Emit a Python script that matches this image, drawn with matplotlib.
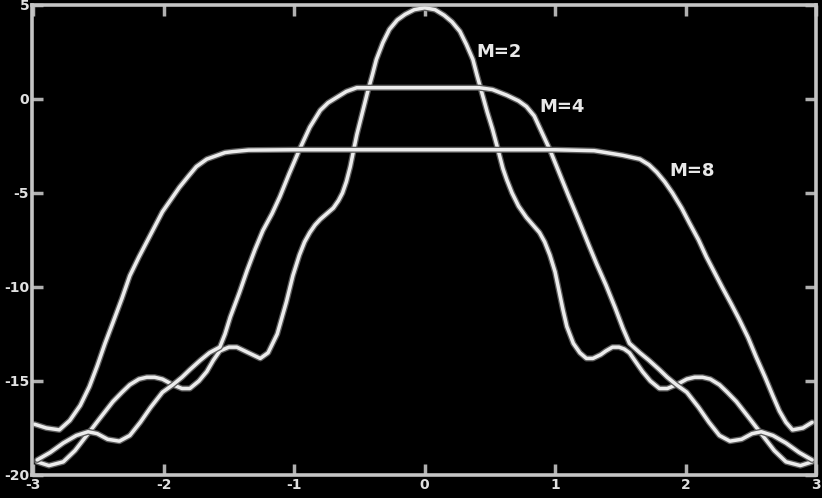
import numpy as np
import matplotlib
matplotlib.use("Agg")
import matplotlib.pyplot as plt
import matplotlib.patheffects as pe

plt.rcParams["axes.unicode_minus"] = False

# values (x, level in dB)
x_m2 = [-2.97, -2.88, -2.77, -2.68, -2.58, -2.48, -2.39, -2.32, -2.26, -2.19, -2.13,
        -2.07, -2.01, -1.93, -1.86, -1.80, -1.73, -1.67, -1.62, -1.57, -1.50, -1.44,
        -1.35, -1.26, -1.20, -1.13, -1.06, -1.01, -0.96, -0.92, -0.88, -0.84, -0.80,
        -0.75, -0.70, -0.66, -0.63, -0.60, -0.57, -0.52, -0.48, -0.44, -0.40, -0.37,
        -0.32, -0.27, -0.21, -0.15, -0.08, 0.0,
        0.08, 0.15, 0.21, 0.27, 0.32, 0.37, 0.40, 0.44, 0.48, 0.52, 0.57, 0.60,
        0.63, 0.67, 0.72, 0.78, 0.83, 0.88, 0.92, 0.96, 1.00, 1.03, 1.06, 1.09,
        1.14, 1.19, 1.24, 1.29, 1.35, 1.39, 1.44, 1.49, 1.53, 1.57, 1.62, 1.67,
        1.73, 1.80, 1.86, 1.93, 2.01, 2.07, 2.13, 2.19, 2.26, 2.32, 2.39, 2.48,
        2.58, 2.68, 2.77, 2.88, 2.97]
db_m2 = [-19.3, -19.5, -19.3, -18.7, -17.8, -16.9, -16.1, -15.6, -15.2, -14.9, -14.8,
         -14.8, -14.9, -15.2, -15.4, -15.4, -15.0, -14.5, -13.9, -13.4, -13.2, -13.2,
         -13.5, -13.8, -13.5, -12.5, -10.8, -9.4, -8.3, -7.6, -7.1, -6.7, -6.4,
         -6.1, -5.8, -5.4, -5.0, -4.4, -3.6, -1.9, -0.8, 0.3, 1.3, 2.1,
         3.0, 3.7, 4.2, 4.5, 4.75, 4.85,
         4.75, 4.45, 4.1, 3.6, 2.9, 2.1, 1.3, 0.3, -0.7, -1.6, -2.9, -3.7,
         -4.3, -5.0, -5.7, -6.3, -6.7, -7.1, -7.6, -8.3, -9.2, -10.2, -11.2, -12.1,
         -13.0, -13.5, -13.8, -13.8, -13.6, -13.4, -13.2, -13.2, -13.3, -13.5, -14.0, -14.5,
         -15.0, -15.4, -15.4, -15.2, -14.9, -14.8, -14.8, -14.9, -15.2, -15.6, -16.1, -16.9,
         -17.8, -18.7, -19.3, -19.5, -19.3]

x_m4 = [-2.97, -2.87, -2.77, -2.67, -2.58, -2.51, -2.43, -2.34, -2.26, -2.18, -2.10,
        -2.01, -1.93, -1.86, -1.80, -1.72, -1.65, -1.57, -1.53, -1.49, -1.42, -1.36,
        -1.30, -1.24, -1.17, -1.11, -1.04, -0.96, -0.88, -0.80, -0.74, -0.67, -0.60,
        -0.52, -0.3, 0.0, 0.3,
        0.42, 0.52, 0.63, 0.72, 0.78, 0.84, 0.88, 0.92, 0.96, 1.03, 1.10, 1.13,
        1.19, 1.26, 1.32, 1.39, 1.46, 1.52, 1.57, 1.65, 1.72, 1.80, 1.86, 1.93,
        2.01, 2.10, 2.18, 2.26, 2.34, 2.43, 2.51, 2.58, 2.67, 2.77, 2.87, 2.97]
db_m4 = [-19.2, -18.8, -18.3, -17.9, -17.7, -17.8, -18.1, -18.2, -17.9, -17.2, -16.4,
         -15.6, -15.2, -14.8, -14.4, -13.9, -13.5, -13.2, -12.5, -11.6, -10.3, -9.1,
         -8.0, -7.0, -6.1, -5.2, -4.0, -2.7, -1.5, -0.6, -0.2, 0.1, 0.4,
         0.6, 0.6, 0.6, 0.6,
         0.6, 0.5, 0.2, -0.1, -0.4, -0.9, -1.5, -2.1, -2.7, -3.9, -5.1, -5.6,
         -6.6, -7.8, -8.8, -9.9, -11.1, -12.2, -13.0, -13.5, -13.9, -14.4, -14.8, -15.2,
         -15.6, -16.4, -17.2, -17.9, -18.2, -18.1, -17.8, -17.7, -17.9, -18.3, -18.8, -19.2]

x_m8 = [-2.99, -2.90, -2.80, -2.72, -2.64, -2.57, -2.51, -2.45, -2.39, -2.32, -2.26,
        -2.19, -2.13, -2.07, -2.01, -1.94, -1.88, -1.81, -1.75, -1.67, -1.59, -1.53,
        -1.47, -1.35, -1.0, -0.5, 0.0, 0.5, 1.0, 1.3, 1.39, 1.52, 1.65, 1.72,
        1.78, 1.84, 1.90, 1.97, 2.03, 2.10, 2.16, 2.22, 2.28, 2.35, 2.41, 2.48,
        2.54, 2.61, 2.67, 2.72, 2.77, 2.82, 2.90, 2.97]
db_m8 = [-17.3, -17.5, -17.6, -17.1, -16.3, -15.3, -14.2, -13.0, -11.9, -10.6, -9.4,
         -8.4, -7.6, -6.8, -6.0, -5.3, -4.7, -4.1, -3.6, -3.2, -3.0, -2.85,
         -2.8, -2.72, -2.7, -2.7, -2.7, -2.7, -2.7, -2.75, -2.85, -3.0, -3.2, -3.5,
         -3.9, -4.4, -5.0, -5.8, -6.6, -7.5, -8.4, -9.2, -10.0, -10.9, -11.7, -12.7,
         -13.7, -14.8, -15.8, -16.6, -17.2, -17.6, -17.5, -17.2]

labels = ["M=2", "M=4", "M=8"]
label_pos = [(0.57, 2.5), (1.05, -0.45), (2.05, -3.85)]

xticks = [-3, -2, -1, 0, 1, 2, 3]
yticks = [5, 0, -5, -10, -15, -20]

fig = plt.figure(figsize=(8.22, 4.98), dpi=100, facecolor="black")
ax = fig.add_axes([0.0389, 0.0462, 0.9538, 0.9438], facecolor="black")

outline = [pe.Stroke(linewidth=4.4, foreground="#5a5a5a"), pe.Normal()]
for xs, ys in [(x_m2, db_m2), (x_m4, db_m4), (x_m8, db_m8)]:
    ax.plot(xs, ys, color="#ececec", lw=2.5, solid_capstyle="round",
            solid_joinstyle="round", path_effects=outline)

for txt, (tx, ty) in zip(labels, label_pos):
    ax.text(tx, ty, txt, color="#e8e8e8", fontsize=13, fontweight="bold",
            ha="center", va="center")

ax.set_xlim(-3.01, 3.0)
ax.set_ylim(-20, 5)
ax.set_xticks(xticks)
ax.set_yticks(yticks)
ax.tick_params(direction="in", length=8, width=2.5, color="#b0b0b0",
               top=True, right=True, labelcolor="#e0e0e0", labelsize=10, pad=2)
for lab in ax.get_xticklabels() + ax.get_yticklabels():
    lab.set_fontweight("bold")
for s in ax.spines.values():
    s.set_color("#c4c4c4")
    s.set_linewidth(2.6)

fig.savefig("out.png", dpi=100, facecolor="black")
